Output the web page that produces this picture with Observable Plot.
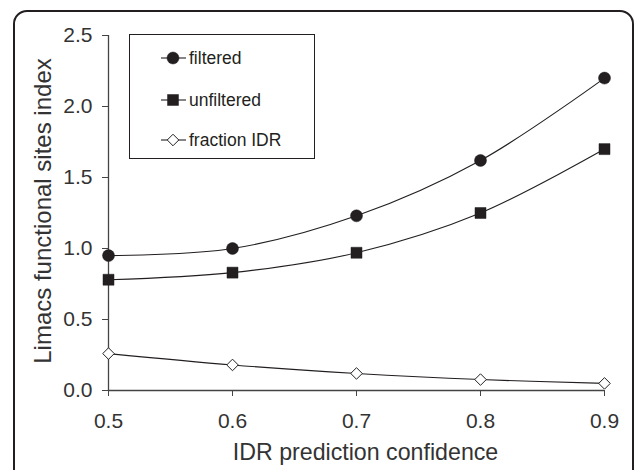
<!DOCTYPE html>
<html>
<head>
<meta charset="utf-8">
<script src="https://cdn.jsdelivr.net/npm/d3@7"></script>
<script src="https://cdn.jsdelivr.net/npm/@observablehq/plot@0.6"></script>
<style>
  html, body { margin: 0; padding: 0; background: #fff; }
  #wrap { position: relative; width: 636px; height: 470px; overflow: hidden; font-family: "Liberation Sans", Arial, sans-serif; }
  #border { position: absolute; left: 13px; top: 10px; width: 621px; height: 480px; border: 2px solid #231f20; border-radius: 14px; box-sizing: border-box; pointer-events: none; }
  #legend { position: absolute; left: 129px; top: 34px; width: 186px; height: 125px; border: 1px solid #231f20; box-sizing: border-box; background: #fff; }
  .item { position: absolute; left: 31px; height: 20px; display: flex; align-items: center; font-size: 17.5px; color: #231f20; }
  .item svg { display: block; margin-right: 3px; }
  #chart { position: absolute; left: 0; top: 0; }
</style>
</head>
<body>
<div id="wrap">
  <div id="chart"></div>
  <div id="legend"></div>
  <div id="border"></div>
</div>
<script>
const confidence = [0.5, 0.6, 0.7, 0.8, 0.9];
const filtered = [0.95, 1.0, 1.23, 1.62, 2.2];
const unfiltered = [0.78, 0.83, 0.97, 1.25, 1.70];
const fractionIDR = [0.26, 0.18, 0.12, 0.077, 0.05];
const seriesNames = ["filtered", "unfiltered", "fraction IDR"];
const xTicks = [0.5, 0.6, 0.7, 0.8, 0.9];
const yTicks = [0, 0.5, 1.0, 1.5, 2.0, 2.5];

const ink = "#231f20";
const symbols = {"filtered": "circle", "unfiltered": "square", "fraction IDR": "diamond2"};
const fills = {"filtered": ink, "unfiltered": ink, "fraction IDR": "#fff"};
const radii = {"filtered": 6, "unfiltered": 6.2, "fraction IDR": 5.2};

const rows = [];
[filtered, unfiltered, fractionIDR].forEach((vals, si) => {
  vals.forEach((v, i) => rows.push({series: seriesNames[si], x: confidence[i], y: v}));
});

const plot = Plot.plot({
  width: 636,
  height: 470,
  marginLeft: 108,
  marginRight: 32,
  marginTop: 35,
  marginBottom: 80,
  style: {fontFamily: "'Liberation Sans', Arial, sans-serif", color: ink, background: "transparent"},
  x: {domain: [0.5, 0.9]},
  y: {domain: [0, 2.5]},
  marks: [
    Plot.axisY({ticks: yTicks, tickFormat: d3.format(".1f"), tickSize: 6, tickPadding: 10, fontSize: 21, label: null, stroke: "#444", fill: "#333"}),
    Plot.axisX({ticks: xTicks, tickFormat: d3.format(".1f"), tickSize: 6, tickPadding: 17, fontSize: 21, label: null, stroke: "#444", fill: "#333"}),
    Plot.ruleX([0.5], {stroke: "#444", strokeWidth: 1.3}),
    Plot.ruleY([0], {stroke: "#444", strokeWidth: 1.3}),
    Plot.line(rows, {x: "x", y: "y", z: "series", curve: "catmull-rom", stroke: ink, strokeWidth: 1.1}),
    ...seriesNames.map(s => Plot.dot(rows.filter(d => d.series === s), {
      x: "x", y: "y", symbol: () => symbols[s], r: radii[s], fill: fills[s], stroke: ink, strokeWidth: s === "fraction IDR" ? 1 : 0.5
    })),
    Plot.text(["Limacs functional sites index"], {frameAnchor: "left", dx: -65, dy: -2, rotate: -90, textAnchor: "middle", lineAnchor: "middle", fontSize: 24, fill: "#333"}),
    Plot.text(["IDR prediction confidence"], {frameAnchor: "bottom", dy: 62, dx: 9, textAnchor: "middle", lineAnchor: "middle", fontSize: 23.2, fill: "#333"})
  ]
});
document.getElementById("chart").appendChild(plot);

// legend
const legend = document.getElementById("legend");
const legendTops = [13, 55, 95];
seriesNames.forEach((s, i) => {
  const item = document.createElement("div");
  item.className = "item";
  item.style.top = legendTops[i] + "px";
  const svg = d3.create("svg").attr("width", 25).attr("height", 20);
  svg.append("line").attr("x1", 0).attr("x2", 25).attr("y1", 10).attr("y2", 10).attr("stroke", ink).attr("stroke-width", 1.1);
  const sym = {"circle": d3.symbolCircle, "square": d3.symbolSquare, "diamond2": d3.symbolDiamond2}[symbols[s]];
  const r = radii[s];
  svg.append("path").attr("transform", "translate(12,10)")
    .attr("d", d3.symbol(sym, r * r * Math.PI)())
    .attr("fill", fills[s]).attr("stroke", ink).attr("stroke-width", s === "fraction IDR" ? 1 : 0.5);
  item.appendChild(svg.node());
  const span = document.createElement("span");
  span.textContent = s;
  item.appendChild(span);
  legend.appendChild(item);
});
</script>
</body>
</html>
